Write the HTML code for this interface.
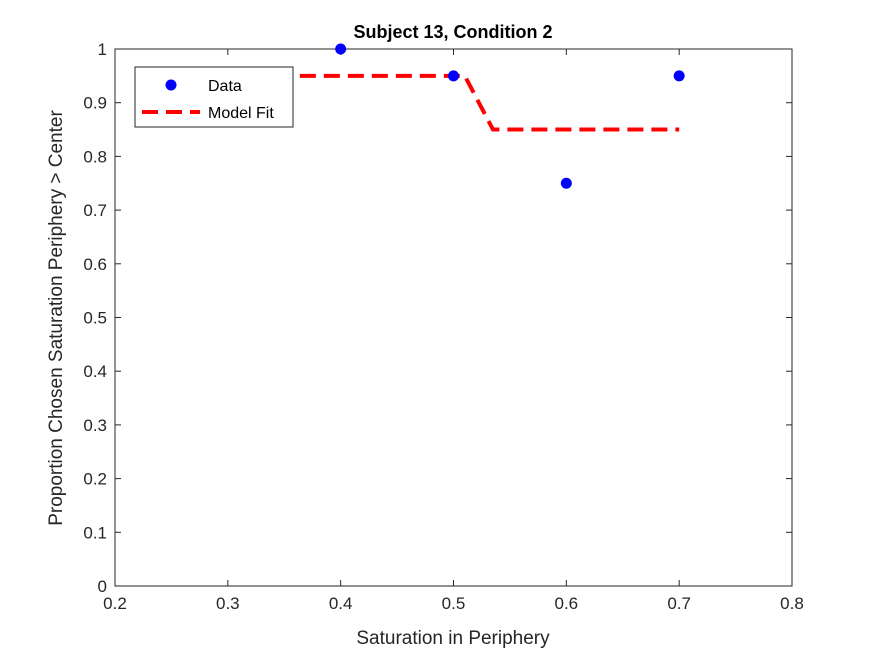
<!DOCTYPE html>
<html><head><meta charset="utf-8"><style>
body{margin:0;background:#fff;}
svg text{font-family:"Liberation Sans",Arial,sans-serif;}
</style></head><body>
<svg id="chart" width="875" height="656" xmlns="http://www.w3.org/2000/svg">
<rect width="875" height="656" fill="#fff"/>
<g id="plot"></g>
</svg>
<script>
const xTicks=[0.2,0.3,0.4,0.5,0.6,0.7,0.8];
const yTicks=[0,0.1,0.2,0.3,0.4,0.5,0.6,0.7,0.8,0.9,1];
const dataX=[0.3,0.4,0.5,0.6,0.7];
const dataY=[0.95,1.0,0.95,0.75,0.95];
const fitX=[0.3,0.51,0.535,0.7];
const fitY=[0.95,0.95,0.85,0.85];
const L=115,R=792,T=49,B=586;
const sx=v=>L+(v-0.2)/0.6*(R-L);
const sy=v=>B-v*(B-T);
const NS="http://www.w3.org/2000/svg";
const g=document.getElementById('plot');
function mk(t,a,txt){const e=document.createElementNS(NS,t);for(const k in a)e.setAttribute(k,a[k]);if(txt!==undefined)e.textContent=txt;g.appendChild(e);return e;}
let e=mk('rect',{x:L,y:T,width:R-L,height:B-T,fill:'#fff',stroke:'#262626','stroke-width':1});


xTicks.forEach(v=>{
 mk('line',{x1:sx(v),x2:sx(v),y1:B,y2:B-6,stroke:'#262626'});
 mk('line',{x1:sx(v),x2:sx(v),y1:T,y2:T+6,stroke:'#262626'});
 const t=mk('text',{x:sx(v),y:B+23,'text-anchor':'middle','font-size':17,fill:'#262626'},v.toFixed(1));
 
 
});
yTicks.forEach(v=>{
 mk('line',{x1:L,x2:L+6,y1:sy(v),y2:sy(v),stroke:'#262626'});
 mk('line',{x1:R,x2:R-6,y1:sy(v),y2:sy(v),stroke:'#262626'});
 const t=mk('text',{x:L-8,y:sy(v)+6,'text-anchor':'end','font-size':17,fill:'#262626'},v===0||v===1?String(v):v.toFixed(1));
 
 
});
const pts=fitX.map((x,i)=>sx(x)+','+sy(fitY[i])).join(' ');
e=mk('polyline',{points:pts,fill:'none',stroke:'#ff0000','stroke-width':4,'stroke-dasharray':'16,8'});


dataX.forEach((x,i)=>{
 const c=mk('circle',{cx:sx(x),cy:sy(dataY[i]),r:5.5,fill:'#0000ff'});
 
 
});
e=mk('rect',{x:135,y:67,width:158,height:60,fill:'#fff',stroke:'#262626'});


mk('circle',{cx:171,cy:85,r:5.5,fill:'#0000ff'});
e=mk('text',{x:208,y:91,'font-size':16,fill:'#000'},'Data');


mk('line',{x1:142,x2:200,y1:112,y2:112,stroke:'#ff0000','stroke-width':4,'stroke-dasharray':'16,8'});
e=mk('text',{x:208,y:118,'font-size':16,fill:'#000'},'Model Fit');


e=mk('text',{x:453,y:38,'text-anchor':'middle','font-size':18,'font-weight':'bold',fill:'#000'},'Subject 13, Condition 2');


e=mk('text',{x:453,y:644,'text-anchor':'middle','font-size':19,fill:'#262626'},'Saturation in Periphery');


e=mk('text',{x:0,y:0,'text-anchor':'middle','font-size':19,fill:'#262626',transform:'translate(62,318) rotate(-90)'},'Proportion Chosen Saturation Periphery > Center');


</script>
</body></html>
